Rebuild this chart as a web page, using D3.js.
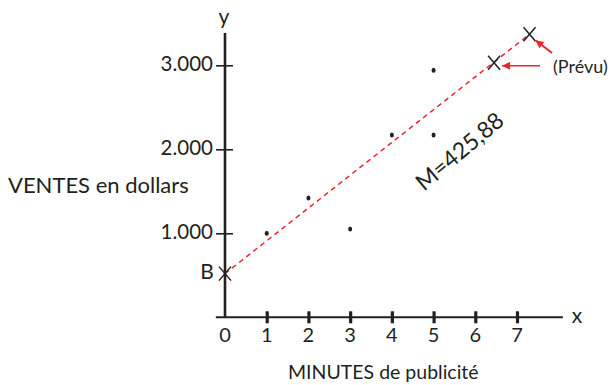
<!DOCTYPE html>
<html>
<head>
<meta charset="utf-8">
<script src="https://cdn.jsdelivr.net/npm/d3@7"></script>
<style>
  body { margin: 0; background: #fff; }
  text { font-family: Lato, "Open Sans", sans-serif; fill: #231f20; }
</style>
</head>
<body>
<div id="chart"></div>
<script>
// data
let minutes = [1, 2, 3, 4, 5, 5];
let sales = [1000, 1420, 1050, 2170, 2170, 2940];
let xTicks = [1, 2, 3, 4, 5, 6, 7];
let xTickLabels = ["0", "1", "2", "3", "4", "5", "6", "7"];
let yTicks = [1000, 2000, 3000];
let yTickLabels = ["1.000", "2.000", "3.000"];
let intercept = 520;
let predictedX = [6.45, 7.3];
let predictedY = [3030, 3370];
let slopeLabel = "M=425,88";

let width = 613, height = 385;
let red = "#e8262d";

let svg = d3.select("#chart").append("svg")
  .attr("width", width)
  .attr("height", height);

let x = d3.scaleLinear().domain([0, 7]).range([225, 517]);
let y = d3.scaleLinear().domain([0, 3000]).range([317.3, 65.3]);

// arrow head marker
svg.append("defs").append("marker")
  .attr("id", "head")
  .attr("viewBox", "0 0 10 10")
  .attr("refX", 10).attr("refY", 5)
  .attr("markerWidth", 11).attr("markerHeight", 8)
  .attr("markerUnits", "userSpaceOnUse")
  .attr("orient", "auto")
  .append("path")
  .attr("d", "M0,0L10,5L0,10Z")
  .attr("fill", red);

// x axis
let xAxis = svg.append("g")
  .attr("transform", "translate(0," + y(0) + ")")
  .call(d3.axisBottom(x).tickValues(xTicks).tickFormat("").tickSizeOuter(0));
xAxis.select(".domain").remove();
xAxis.append("line")
  .attr("x1", x(-0.22)).attr("x2", x(8.1))
  .attr("stroke", "#231f20").attr("stroke-width", 2);
xAxis.selectAll(".tick line")
  .attr("y1", -6).attr("y2", 6)
  .attr("stroke", "#231f20").attr("stroke-width", 3.2);

svg.selectAll(".xlab")
  .data(xTickLabels)
  .enter().append("text")
  .attr("class", "xlab")
  .attr("x", (d, i) => x(i))
  .attr("y", y(0) + 20)
  .attr("text-anchor", "middle")
  .attr("dominant-baseline", "middle")
  .attr("font-size", 20)
  .text(d => d);

// y axis
let yAxis = svg.append("g")
  .attr("transform", "translate(" + x(0) + ",0)")
  .call(d3.axisLeft(y).tickValues(yTicks).tickFormat("").tickSizeOuter(0));
yAxis.select(".domain").remove();
yAxis.append("line")
  .attr("y1", y(3385)).attr("y2", y(0))
  .attr("stroke", "#231f20").attr("stroke-width", 2.6);
yAxis.selectAll(".tick line")
  .attr("x1", -9).attr("x2", 8)
  .attr("stroke", "#231f20").attr("stroke-width", 1.6);

svg.selectAll(".ylab")
  .data(yTicks)
  .enter().append("text")
  .attr("class", "ylab")
  .attr("x", x(0) - 12)
  .attr("y", d => y(d) + 1)
  .attr("text-anchor", "end")
  .attr("dominant-baseline", "middle")
  .attr("font-size", 20.5)
  .text((d, i) => yTickLabels[i]);

// axis names
svg.append("text").attr("x", x(0) - 1).attr("y", 19)
  .attr("text-anchor", "middle").attr("dominant-baseline", "middle")
  .attr("font-size", 21).text("y");
svg.append("text").attr("x", 577).attr("y", y(0))
  .attr("text-anchor", "middle").attr("dominant-baseline", "middle")
  .attr("font-size", 21).text("x");
svg.append("text").attr("x", 8).attr("y", 187)
  .attr("dominant-baseline", "middle")
  .attr("font-size", 22).text("VENTES en dollars");
svg.append("text").attr("x", 288).attr("y", 374)
  .attr("dominant-baseline", "middle")
  .attr("font-size", 19.5).text("MINUTES de publicité");

// regression line, from B to the last forecast
svg.append("line")
  .attr("x1", x(0)).attr("y1", y(intercept))
  .attr("x2", x(predictedX[1])).attr("y2", y(predictedY[1]))
  .attr("stroke", red)
  .attr("stroke-width", 1.5)
  .attr("stroke-dasharray", "5,4");

// observed points
svg.selectAll(".pt")
  .data(minutes)
  .enter().append("ellipse")
  .attr("class", "pt")
  .attr("cx", d => x(d))
  .attr("cy", (d, i) => y(sales[i]))
  .attr("rx", 2).attr("ry", 2.5)
  .attr("fill", "#231f20");

// cross marks: B and forecasts
let crosses = [[0, intercept]].concat(predictedX.map((d, i) => [d, predictedY[i]]));
let cross = svg.selectAll(".cross")
  .data(crosses)
  .enter().append("g")
  .attr("class", "cross")
  .attr("transform", d => "translate(" + x(d[0]) + "," + y(d[1]) + ")");
cross.append("line")
  .attr("x1", -6).attr("y1", -7).attr("x2", 6).attr("y2", 7)
  .attr("stroke", "#231f20").attr("stroke-width", 1.5);
cross.append("line")
  .attr("x1", 6).attr("y1", -7).attr("x2", -6).attr("y2", 7)
  .attr("stroke", "#231f20").attr("stroke-width", 1.5);

svg.append("text")
  .attr("x", x(0) - 18).attr("y", y(intercept))
  .attr("text-anchor", "middle").attr("dominant-baseline", "middle")
  .attr("font-size", 21).text("B");

// slope label
svg.append("text")
  .attr("transform", "translate(461,153) rotate(-40)")
  .attr("text-anchor", "middle").attr("dominant-baseline", "middle")
  .attr("font-size", 23).text(slopeLabel);

// forecast arrows
svg.append("line")
  .attr("x1", 540).attr("y1", y(predictedY[0]) + 3)
  .attr("x2", x(predictedX[0]) + 8).attr("y2", y(predictedY[0]) + 3)
  .attr("stroke", red).attr("stroke-width", 1.5)
  .attr("marker-end", "url(#head)");
svg.append("line")
  .attr("x1", 552).attr("y1", 53)
  .attr("x2", x(predictedX[1]) + 6).attr("y2", y(predictedY[1]) + 6)
  .attr("stroke", red).attr("stroke-width", 2)
  .attr("marker-end", "url(#head)");
svg.append("text").attr("x", 553).attr("y", 68)
  .attr("dominant-baseline", "middle")
  .attr("font-size", 18).text("(Prévu)");
</script>
</body>
</html>
